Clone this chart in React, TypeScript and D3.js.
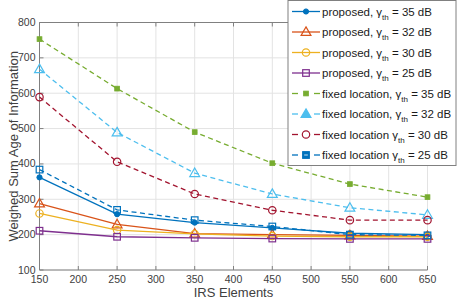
import React from 'react';
import * as d3 from 'd3';

const elements = [150, 250, 350, 450, 550, 650];

const prop35 = [362, 258, 234, 219, 204, 200];
const prop32 = [288, 229, 203, 200, 198, 196];
const prop30 = [260, 213, 202, 196, 194, 194];
const prop25 = [211, 194, 191, 189, 188, 188];
const fixed35 = [753, 613, 490, 402, 343, 306];
const fixed32 = [668, 489, 374, 315, 276, 256];
const fixed30 = [589, 406, 315, 269, 241, 241];
const fixed25 = [384, 270, 241, 223, 200, 198];

const xTicks = [150, 200, 250, 300, 350, 400, 450, 500, 550, 600, 650];
const yTicks = [100, 200, 300, 400, 500, 600, 700, 800];

type Marker = 'dot' | 'tri' | 'circ' | 'sq' | 'star';

const series = [
  { pre: 'proposed, ', th: '35', values: prop35, color: '#0072BD', dashed: false, marker: 'dot' as Marker },
  { pre: 'proposed, ', th: '32', values: prop32, color: '#D95319', dashed: false, marker: 'tri' as Marker },
  { pre: 'proposed, ', th: '30', values: prop30, color: '#EDB120', dashed: false, marker: 'circ' as Marker },
  { pre: 'proposed, ', th: '25', values: prop25, color: '#7E2F8E', dashed: false, marker: 'sq' as Marker },
  { pre: 'fixed location, ', th: '35', values: fixed35, color: '#77AC30', dashed: true, marker: 'star' as Marker },
  { pre: 'fixed location, ', th: '32', values: fixed32, color: '#4DBEEE', dashed: true, marker: 'tri' as Marker },
  { pre: 'fixed location ', th: '30', values: fixed30, color: '#A2142F', dashed: true, marker: 'circ' as Marker },
  { pre: 'fixed location ', th: '25', values: fixed25, color: '#0072BD', dashed: true, marker: 'sq' as Marker },
];

const W = 460;
const H = 302;
const margin = { left: 39.5, right: 32.5, top: 22.5, bottom: 32 };
const font = '"Liberation Sans", Arial, Helvetica, sans-serif';

const x = d3.scaleLinear().domain([150, 650]).range([margin.left, W - margin.right]);
const y = d3.scaleLinear().domain([100, 800]).range([H - margin.bottom, margin.top]);

function drawMarker(kind: Marker, cx: number, cy: number, color: string, key: string, fillIt = false) {
  const fill = fillIt ? color : 'none';
  if (kind === 'dot') return <circle key={key} cx={cx} cy={cy} r={2.6} fill={color} stroke={color} />;
  if (kind === 'circ') return <circle key={key} cx={cx} cy={cy} r={3.7} fill={fill} stroke={color} strokeWidth={1.2} />;
  if (kind === 'sq') {
    return (
      <g key={key}>
        <rect x={cx - 3.3} y={cy - 3.3} width={6.6} height={6.6} fill={fill} stroke={color} strokeWidth={1.2} />
        {fillIt && <line x1={cx - 1.8} x2={cx + 1.8} y1={cy} y2={cy} stroke="#fff" strokeWidth={0.8} />}
      </g>
    );
  }
  if (kind === 'tri') {
    const p = d3.symbol(d3.symbolTriangle, 42)();
    return <path key={key} d={p} transform={`translate(${cx},${cy + 0.6})`} fill={fill} stroke={color} strokeWidth={1.2} />;
  }
  return <rect key={key} x={cx - 2.4} y={cy - 2.4} width={4.8} height={4.8} fill={color} stroke={color} strokeWidth={0.8} />;
}

export default function App() {
  const line = d3.line<number>().x((_, i) => x(elements[i])).y(d => y(d));
  const x0 = margin.left;
  const x1 = W - margin.right;
  const y0 = H - margin.bottom;
  const y1 = margin.top;

  const legX = 288;
  const legY = 0.5;
  const rowH = 20.5;

  return (
    <svg width={W} height={H} style={{ position: 'fixed', left: 0, top: 0, background: '#fff' }} fontFamily={font}>
      {/* grid */}
      {xTicks.map(t => (
        <line key={'gx' + t} x1={x(t)} x2={x(t)} y1={y0} y2={y1} stroke="#e3e3e3" strokeWidth={1} />
      ))}
      {yTicks.map(t => (
        <line key={'gy' + t} x1={x0} x2={x1} y1={y(t)} y2={y(t)} stroke="#e3e3e3" strokeWidth={1} />
      ))}
      {/* axes */}
      <line x1={x0} x2={x0} y1={y0} y2={y1} stroke="#808080" />
      <line x1={x0} x2={x1} y1={y0} y2={y0} stroke="#808080" />
      <line x1={x0} x2={x1} y1={y1} y2={y1} stroke="#808080" />
      {xTicks.map(t => (
        <g key={'tx' + t}>
          <line x1={x(t)} x2={x(t)} y1={y0} y2={y0 - 4} stroke="#808080" />
          <line x1={x(t)} x2={x(t)} y1={y1} y2={y1 + 4} stroke="#808080" />
          <text x={x(t)} y={y0 + 13} textAnchor="middle" fontSize={10.5} fill="#404040">{t}</text>
        </g>
      ))}
      {yTicks.map(t => (
        <g key={'ty' + t}>
          <line x1={x0} x2={x0 + 4} y1={y(t)} y2={y(t)} stroke="#808080" />
          <text x={x0 - 4} y={y(t) + 3.5} textAnchor="end" fontSize={10.5} fill="#404040">{t}</text>
        </g>
      ))}
      <text x={(x0 + x1) / 2} y={297} textAnchor="middle" fontSize={13} fill="#404040">IRS Elements</text>
      <text transform={`translate(18,${(y0 + y1) / 2}) rotate(-90)`} textAnchor="middle" fontSize={13} fill="#404040">
        Weighed Sum Age of Information
      </text>

      {/* series */}
      {series.map((s, si) => (
        <g key={'s' + si}>
          <path d={line(s.values) || ''} fill="none" stroke={s.color} strokeWidth={1.3} strokeDasharray={s.dashed ? '5,3.5' : undefined} />
          {s.values.map((v, i) => drawMarker(s.marker, x(elements[i]), y(v), s.color, `m${si}-${i}`))}
        </g>
      ))}

      {/* legend */}
      <rect x={legX} y={legY} width={168} height={165} fill="#fff" stroke="#808080" strokeWidth={1} />
      {series.map((s, i) => {
        const cy = legY + 11 + i * rowH;
        return (
          <g key={'l' + i}>
            {s.dashed ? (
              <>
                <line x1={legX + 4} x2={legX + 10} y1={cy} y2={cy} stroke={s.color} strokeWidth={1.3} />
                <line x1={legX + 26} x2={legX + 32} y1={cy} y2={cy} stroke={s.color} strokeWidth={1.3} />
              </>
            ) : (
              <line x1={legX + 4} x2={legX + 32} y1={cy} y2={cy} stroke={s.color} strokeWidth={1.3} />
            )}
            {drawMarker(s.marker, legX + 18, cy, s.color, 'lm' + i, s.dashed && s.marker !== 'circ')}
            <text x={legX + 34} y={cy + 4} fontSize={11.5} fill="#1a1a1a">
              {s.pre}
              <tspan>γ</tspan>
              <tspan dy={4} fontSize={8}>th</tspan>
              <tspan dy={-4}>{` = ${s.th} dB`}</tspan>
            </text>
          </g>
        );
      })}
    </svg>
  );
}
